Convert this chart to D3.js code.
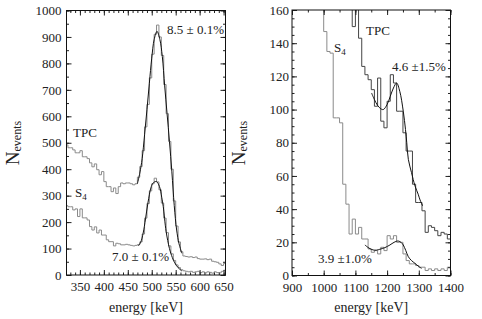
<!DOCTYPE html>
<html>
<head>
<meta charset="utf-8">
<script src="https://cdn.jsdelivr.net/npm/d3@7"></script>
<style>
  body { margin: 0; background: #fff; }
  svg { display: block; }
  text { font-family: "Liberation Serif", "DejaVu Serif", serif; fill: #222; }
</style>
</head>
<body>
<svg id="chart" width="482" height="319"></svg>
<script>
/* 511 keV panel: 5 keV bins starting at 320 keV */
var lowStart = 320, lowBin = 5;
var tpcLow = [492, 481, 481, 473, 462, 462, 470, 447, 447, 440,
              424, 409, 420, 398, 379, 391, 353, 334, 334, 315,
              329, 308, 334, 348, 345, 348, 348, 345, 341, 345,
              370, 410, 470, 560, 645, 745, 835, 910, 945, 900,
              830, 720, 610, 505, 400, 280, 185, 125, 88, 72,
              70, 68, 69, 66, 68, 62, 60, 60, 61, 58,
              60, 52, 50, 48, 42, 36, 44];
var s4Low = [262, 258, 258, 246, 250, 221, 250, 216, 216, 208,
             183, 170, 182, 159, 170, 151, 151, 133, 126, 126,
             110, 120, 118, 114, 114, 116, 114, 112, 110, 112,
             115, 125, 155, 215, 270, 318, 345, 366, 352, 322,
             272, 215, 160, 110, 80, 55, 38, 28, 20, 16,
             14, 12, 14, 10, 12, 14, 9, 12, 8, 12,
             10, 7, 12, 9, 8, 14, 18];
/* fitted curves, [keV, counts] */
var tpcLowFit = [[470, 345], [475, 385], [480, 440], [485, 530], [490, 625], [495, 725],
                 [500, 820], [505, 890], [511, 921], [517, 890], [522, 827], [527, 715],
                 [532, 610], [537, 505], [542, 390], [547, 262], [552, 170], [557, 118], [563, 82]];
var s4LowFit = [[472, 110], [477, 124], [482, 158], [487, 212], [492, 272], [499, 334],
                [504, 350], [510, 353], [516, 335], [521, 292], [524, 259], [530, 165],
                [537, 100], [543, 66], [548, 46], [555, 28], [563, 15]];

/* 1275 keV panel: 10 keV bins starting at 900 keV */
var highStart = 900, highBin = 10;
var tpcHigh = [420, 400, 380, 360, 340, 320, 300, 285, 270, 255,
               240, 230, 220, 210, 200, 190, 182, 176, 170, 150,
               170, 143, 126, 121, 118, 112, 102, 119, 93, 89,
               105, 121, 116, 99, 99, 86, 75, 75, 55, 44,
               44, 39, 26, 30, 29, 27, 24, 26, 25, 22];
var s4High = [260, 250, 240, 230, 220, 210, 200, 190, 180, 170,
              147, 135, 134, 95, 95, 92, 55, 43, 25, 34,
              25, 29, 22, 22, 16, 14, 15, 13, 17, 15,
              24, 22, 24, 20, 20, 13, 9, 7, 7, 6,
              5, 5, 3, 4, 3, 4, 3, 4, 3, 5];
var tpcHighFit = [[1151, 110], [1160, 106], [1170, 102.5], [1180, 100.5], [1188, 100],
                  [1200, 103], [1210, 108], [1220, 113], [1230, 116], [1240, 111],
                  [1251, 99], [1258, 88], [1262, 80], [1267, 70], [1277, 62],
                  [1288, 54], [1298, 49], [1304, 45.5], [1312, 42]];
var s4HighFit = [[1130, 18.4], [1143, 16.5], [1156, 15.4], [1167, 15.3], [1177, 15.8],
                 [1193, 16.8], [1209, 18.4], [1222, 20], [1235, 20.8], [1245, 19.8],
                 [1251, 18.4], [1259, 15], [1267, 11.3], [1277, 9], [1288, 7.3],
                 [1300, 5.4], [1309, 4.3]];

var svg = d3.select("#chart");
var serif = "'Liberation Serif', 'DejaVu Serif', serif";

function bins(start, width, values) {
  var pts = values.map(function(v, i) { return [start + i * width, v]; });
  pts.push([start + values.length * width, values[values.length - 1]]);
  return pts;
}

function panel(opt) {
  var x = d3.scaleLinear().domain(opt.xDomain).range([opt.left, opt.right]);
  var y = d3.scaleLinear().domain(opt.yDomain).range([opt.bottom, opt.top]);
  var g = svg.append("g");

  g.append("clipPath").attr("id", opt.id)
    .append("rect")
    .attr("x", opt.left).attr("y", opt.top)
    .attr("width", opt.right - opt.left).attr("height", opt.bottom - opt.top);

  var step = d3.line().x(function(d) { return x(d[0]); }).y(function(d) { return y(d[1]); })
    .curve(d3.curveStepAfter);
  var smooth = d3.line().x(function(d) { return x(d[0]); }).y(function(d) { return y(d[1]); })
    .curve(d3.curveCatmullRom);

  var plot = g.append("g").attr("clip-path", "url(#" + opt.id + ")");
  opt.hists.forEach(function(h) {
    plot.append("path").attr("d", step(h.pts))
      .attr("fill", "none").attr("stroke", h.color).attr("stroke-width", 1);
  });
  opt.fits.forEach(function(f) {
    plot.append("path").attr("d", smooth(f))
      .attr("fill", "none").attr("stroke", "#111").attr("stroke-width", 1);
  });

  /* inward ticks on all four sides */
  function ax(axis, scale, vals, size, label, tx, ty) {
    var a = axis(scale).tickValues(vals).tickSize(-size).tickPadding(3)
      .tickFormat(label ? d3.format("d") : "");
    var s = g.append("g").attr("transform", "translate(" + tx + "," + ty + ")").call(a);
    s.attr("font-family", serif).attr("font-size", 13);
    s.select(".domain").remove();
    s.selectAll("line").attr("stroke", "#222");
    s.selectAll("text").attr("fill", "#222");
    return s;
  }
  var xMaj = d3.range(opt.xTicks[0], opt.xDomain[1] + 0.01, opt.xTicks[1]);
  var xMin = d3.range(opt.xTicks[0] - Math.floor((opt.xTicks[0] - opt.xDomain[0]) / opt.xTicks[2]) * opt.xTicks[2],
                      opt.xDomain[1] + 0.01, opt.xTicks[2]);
  var yMaj = d3.range(opt.yDomain[0], opt.yDomain[1] + 0.01, opt.yTicks[0]);
  var yMin = d3.range(opt.yDomain[0], opt.yDomain[1] + 0.01, opt.yTicks[1]);

  var bx = ax(d3.axisBottom, x, xMaj, 5, true, 0, opt.bottom);
  bx.selectAll("text").attr("dy", null).attr("y", 16);
  ax(d3.axisBottom, x, xMin, 2.5, false, 0, opt.bottom);
  ax(d3.axisTop, x, xMaj, 5, false, 0, opt.top);
  ax(d3.axisTop, x, xMin, 2.5, false, 0, opt.top);
  var ly = ax(d3.axisLeft, y, yMaj, 5, true, opt.left, 0);
  ly.selectAll("text").attr("x", -opt.yPad);
  ax(d3.axisLeft, y, yMin, 2.5, false, opt.left, 0);
  ax(d3.axisRight, y, yMaj, 5, false, opt.right, 0);
  ax(d3.axisRight, y, yMin, 2.5, false, opt.right, 0);

  g.append("rect")
    .attr("x", opt.left).attr("y", opt.top)
    .attr("width", opt.right - opt.left).attr("height", opt.bottom - opt.top)
    .attr("fill", "none").attr("stroke", "#111").attr("stroke-width", 1);

  /* axis titles */
  g.append("text").attr("x", (opt.left + opt.right) / 2).attr("y", 312)
    .attr("text-anchor", "middle").attr("font-size", 14).text("energy [keV]");
  var yt = g.append("text")
    .attr("transform", "translate(" + opt.yTitleX + "," + 143 + ") rotate(-90)")
    .attr("text-anchor", "middle");
  yt.append("tspan").attr("font-size", 19).text("N");
  yt.append("tspan").attr("font-size", 12).attr("dy", 2).text("events");

  /* annotations */
  opt.notes.forEach(function(n) {
    var t = g.append("text").attr("x", n.x).attr("y", n.y).attr("font-size", 13);
    t.append("tspan").text(n.text);
    if (n.sub) t.append("tspan").attr("font-size", 9).attr("dy", 3).text(n.sub);
  });
}

panel({
  id: "clipLow", left: 66.5, right: 225.5, top: 10.5, bottom: 275,
  xDomain: [322, 654], yDomain: [0, 1000],
  xTicks: [350, 50, 10], yTicks: [100, 50],
  yPad: 5, yTitleX: 19,
  hists: [{ pts: bins(lowStart, lowBin, tpcLow), color: "#8a8a8a" },
          { pts: bins(lowStart, lowBin, s4Low), color: "#8a8a8a" }],
  fits: [tpcLowFit, s4LowFit],
  notes: [{ x: 167, y: 34, text: "8.5 \u00b1 0.1%" },
          { x: 73, y: 137, text: "TPC" },
          { x: 75, y: 197, text: "S", sub: "4" },
          { x: 112, y: 261, text: "7.0 \u00b1 0.1%" }]
});

panel({
  id: "clipHigh", left: 292, right: 450.5, top: 10, bottom: 275.5,
  xDomain: [900, 1400], yDomain: [0, 160],
  xTicks: [900, 100, 50], yTicks: [20, 5],
  yPad: 3, yTitleX: 245,
  hists: [{ pts: bins(highStart, highBin, s4High), color: "#8a8a8a" },
          { pts: bins(highStart, highBin, tpcHigh), color: "#444" }],
  fits: [tpcHighFit, s4HighFit],
  notes: [{ x: 366, y: 35, text: "TPC" },
          { x: 334, y: 52, text: "S", sub: "4" },
          { x: 392, y: 71, text: "4.6 \u00b11.5%" },
          { x: 318, y: 263, text: "3.9 \u00b11.0%" }]
});
</script>
</body>
</html>
